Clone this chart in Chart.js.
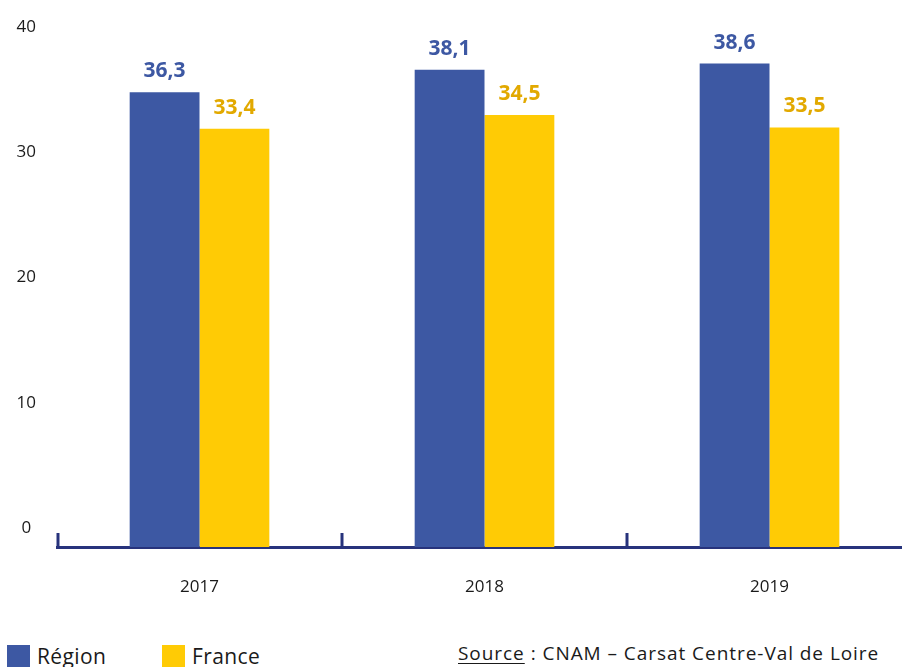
<!DOCTYPE html>
<html lang="fr">
<head>
<meta charset="utf-8">
<title>Région / France</title>
<script src="https://cdn.jsdelivr.net/npm/chart.js@4.4.1/dist/chart.umd.min.js"></script>
<style>
  html, body { margin: 0; padding: 0; background: #fff; }
  body {
    position: relative; width: 902px; height: 667px; overflow: hidden;
    font-family: 'Open Sans', sans-serif; color: #1a1a1a;
  }
  .chart-wrap { position: absolute; left: 0; top: 0; width: 912px; height: 630px; }
  .legend { position: absolute; left: 7px; top: 645px; display: flex; font-size: 21px; line-height: 23px; letter-spacing: 0.4px; }
  .legend-item { display: flex; align-items: flex-start; width: 155px; }
  .legend-item .swatch { width: 23px; height: 23px; margin-right: 7px; flex: none; }
  .source { position: absolute; left: 458px; top: 640px; font-size: 19px; letter-spacing: 0.95px; white-space: nowrap; }
  .source u { text-underline-offset: 3px; }
</style>
</head>
<body>
<div class="chart-wrap"><canvas id="chart"></canvas></div>
<div class="legend" id="legend"></div>
<div class="source"><u>Source</u> : CNAM – Carsat Centre-Val de Loire</div>

<script>
// ── Data ──
const YEARS   = ['2017', '2018', '2019'];
const REGION  = [36.3, 38.1, 38.6];
const FRANCE  = [33.4, 34.5, 33.5];
const Y_TICKS = [0, 10, 20, 30, 40];

// ── Palette ──
const BLUE      = '#3d58a3';
const YELLOW    = '#ffcb05';
const GOLD_TEXT = '#e2a900';
const NAVY      = '#27337c';
const FONT      = "'Open Sans', sans-serif";

Chart.defaults.font.family = FONT;
Chart.defaults.color = '#1a1a1a';

const fmt = v => v.toFixed(1).replace('.', ',');

// value above each bar, same colour family as the bar
const valueLabels = {
  id: 'valueLabels',
  afterDatasetsDraw(chart) {
    const { ctx } = chart;
    ctx.save();
    ctx.font = `bold 21px ${FONT}`;
    ctx.textAlign = 'center';
    ctx.textBaseline = 'alphabetic';
    chart.data.datasets.forEach((ds, di) => {
      ctx.fillStyle = ds.labelColor;
      chart.getDatasetMeta(di).data.forEach((bar, i) => {
        ctx.fillText(fmt(ds.data[i]), bar.x, bar.y - 15);
      });
    });
    ctx.restore();
  }
};

// short upright ticks on the category boundaries
const boundaryTicks = {
  id: 'boundaryTicks',
  afterDatasetsDraw(chart) {
    const { ctx, chartArea, scales: { x } } = chart;
    ctx.save();
    ctx.strokeStyle = NAVY;
    ctx.lineWidth = 3;
    for (let i = 0; i <= YEARS.length; i++) {
      const px = Math.max(x.getPixelForValue(i - 0.5), chartArea.left + 1);
      ctx.beginPath();
      ctx.moveTo(px, chartArea.bottom);
      ctx.lineTo(px, chartArea.bottom - 14);
      ctx.stroke();
    }
    ctx.restore();
  }
};

const chart = new Chart(document.getElementById('chart'), {
  type: 'bar',
  data: {
    labels: YEARS,
    datasets: [
      { label: 'Région', data: REGION, backgroundColor: BLUE,   labelColor: BLUE },
      { label: 'France', data: FRANCE, backgroundColor: YELLOW, labelColor: GOLD_TEXT },
    ],
  },
  options: {
    responsive: true,
    maintainAspectRatio: false,
    animation: false,
    layout: { padding: { top: 46, right: 0, bottom: 23, left: 0 } },
    datasets: { bar: { categoryPercentage: 0.49, barPercentage: 1 } },
    plugins: { legend: { display: false }, tooltip: { enabled: false } },
    scales: {
      x: {
        offset: true,
        grid: { display: false, drawTicks: false },
        border: { display: true, color: NAVY, width: 3 },
        ticks: { font: { size: 17 }, color: '#1a1a1a', padding: 30 },
        afterFit: s => { s.height = 60; },
      },
      y: {
        min: 0, max: 40,
        afterBuildTicks: s => { s.ticks = Y_TICKS.map(v => ({ value: v })); },
        grid: { display: false, drawTicks: false },
        border: { display: false },
        ticks: { font: { size: 17 }, color: '#1a1a1a', padding: 21, crossAlign: 'center', labelOffset: -19 },
        afterFit: s => { s.width = 57; },
      },
    },
  },
  plugins: [valueLabels, boundaryTicks],
});

// ── HTML legend built from the datasets ──
const legend = document.getElementById('legend');
chart.data.datasets.forEach(ds => {
  const item = document.createElement('div');
  item.className = 'legend-item';
  item.innerHTML = `<span class="swatch" style="background:${ds.backgroundColor}"></span><span>${ds.label}</span>`;
  legend.appendChild(item);
});
</script>
</body>
</html>
